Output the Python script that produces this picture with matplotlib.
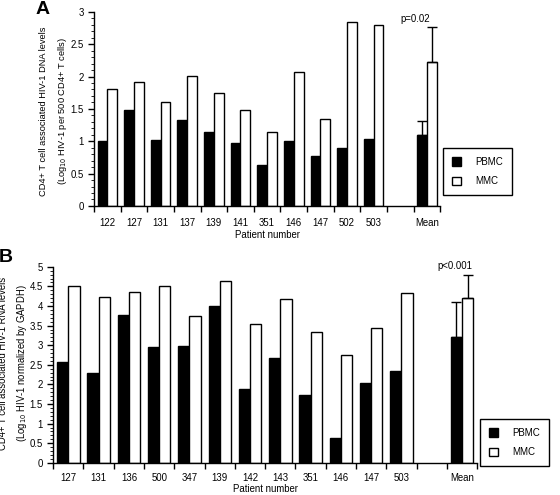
import matplotlib
matplotlib.use("Agg")
import matplotlib.pyplot as plt
from matplotlib.patches import Patch
from matplotlib.ticker import MultipleLocator, FixedLocator

plt.rcParams["font.family"] = ["Liberation Sans", "DejaVu Sans"]
plt.rcParams["font.size"] = 6.9

# panel A: DNA levels
a_patients = ["122", "127", "131", "137", "139", "141", "351", "146", "147", "502", "503"]
a_pbmc = [1.00, 1.49, 1.02, 1.33, 1.14, 0.98, 0.64, 1.00, 0.77, 0.89, 1.03]
a_mmc = [1.80, 1.91, 1.60, 2.01, 1.75, 1.48, 1.14, 2.07, 1.34, 2.85, 2.79]
a_mean = [1.09, 2.22]
a_err = [0.23, 0.54]
a_p = "p=0.02"

# panel B: RNA levels
b_patients = ["127", "131", "136", "500", "347", "139", "142", "143", "351", "146", "147", "503"]
b_pbmc = [2.58, 2.30, 3.78, 2.95, 2.99, 3.99, 1.88, 2.68, 1.74, 0.64, 2.03, 2.33]
b_mmc = [4.51, 4.22, 4.35, 4.50, 3.74, 4.63, 3.54, 4.19, 3.33, 2.76, 3.44, 4.34]
b_mean = [3.21, 4.21]
b_err = [0.90, 0.58]
b_p = "p<0.001"

W = 0.37


def panel(ax, patients, pbmc, mmc, mean, err, ymax, ptext, px, pad):
    n = len(patients)
    xs = [i + 0.5 for i in range(n)]
    mx = n + 1.5
    ax.bar([x - W / 2 for x in xs], pbmc, W, color="black", edgecolor="black", lw=1)
    ax.bar([x + W / 2 for x in xs], mmc, W, color="white", edgecolor="black", lw=1)
    ax.bar([mx - W / 2], [mean[0]], W, color="black", edgecolor="black", lw=1)
    ax.bar([mx + W / 2], [mean[1]], W, color="white", edgecolor="black", lw=1)
    for off, m, e in [(-W / 2, mean[0], err[0]), (W / 2, mean[1], err[1])]:
        ax.errorbar([mx + off], [m], yerr=[[0], [e]], fmt="none", ecolor="black",
                    elinewidth=1, capsize=3.5, capthick=1)
    ax.text(mx + px, mean[1] + err[1] + ymax * 0.02, ptext, ha="center", va="bottom")

    ax.set_xlim(0, n + 2)
    ax.set_ylim(0, ymax)
    ax.xaxis.set_major_locator(FixedLocator(range(n + 3)))
    ax.xaxis.set_minor_locator(FixedLocator(xs + [mx]))
    ax.xaxis.set_major_formatter(plt.NullFormatter())
    ax.set_xticklabels(patients + ["Mean"], minor=True)
    ax.tick_params(axis="x", which="major", length=4, width=1, direction="out")
    ax.tick_params(axis="x", which="minor", length=0, pad=pad)
    ax.yaxis.set_major_locator(MultipleLocator(0.5))
    ax.yaxis.set_minor_locator(MultipleLocator(0.1))
    ax.yaxis.set_major_formatter(plt.FuncFormatter(lambda v, p: f"{v:g}"))
    ax.tick_params(axis="y", which="major", length=4, width=1)
    ax.tick_params(axis="y", which="minor", length=2, width=0.6)
    for s in ["top", "right"]:
        ax.spines[s].set_visible(False)
    for s in ["left", "bottom"]:
        ax.spines[s].set_linewidth(1)
    ax.set_xlabel("Patient number", labelpad=1)


fig = plt.figure(figsize=(5.6, 4.95), dpi=100)
ax1 = fig.add_axes([0.168, 0.584, 0.618, 0.392])
ax2 = fig.add_axes([0.095, 0.065, 0.757, 0.396])

panel(ax1, a_patients, a_pbmc, a_mmc, a_mean, a_err, 3, a_p, -0.43, 9)
panel(ax2, b_patients, b_pbmc, b_mmc, b_mean, b_err, 5, b_p, -0.23, 7)

fig.text(54 / 560, 1 - 111 / 495,
         "CD4+ T cell associated HIV-1 DNA levels\n(Log$_{10}$ HIV-1 per 500 CD4+ T cells)",
         rotation=90, ha="center", va="center", multialignment="center",
         linespacing=1.9, fontsize=6.7)
fig.text(14 / 560, 1 - 363 / 495,
         "CD4+ T cell associated HIV-1 RNA levels\n(Log$_{10}$ HIV-1 normalized by GAPDH)",
         rotation=90, ha="center", va="center", multialignment="center",
         linespacing=1.7, fontsize=6.85)

handles = [Patch(facecolor="black", edgecolor="black"), Patch(facecolor="white", edgecolor="black")]
for box in [(443 / 560, 1 - 148 / 495), (480 / 560, 1 - 419 / 495)]:
    leg = fig.legend(handles, ["PBMC", "MMC"], loc="upper left", bbox_to_anchor=box,
                     fancybox=False, edgecolor="black", handlelength=1.0, handleheight=1.0,
                     handletextpad=1.4, borderpad=0.9, labelspacing=1.0, borderaxespad=0,
                     framealpha=1, fontsize=7)
    leg.get_frame().set_linewidth(1)

fig.text(43 / 560, 1 - 9 / 495, "A", fontsize=14, fontweight="bold", ha="center", va="center")
fig.text(6 / 560, 1 - 257 / 495, "B", fontsize=14, fontweight="bold", ha="center", va="center")

fig.savefig("out.png", dpi=100)
